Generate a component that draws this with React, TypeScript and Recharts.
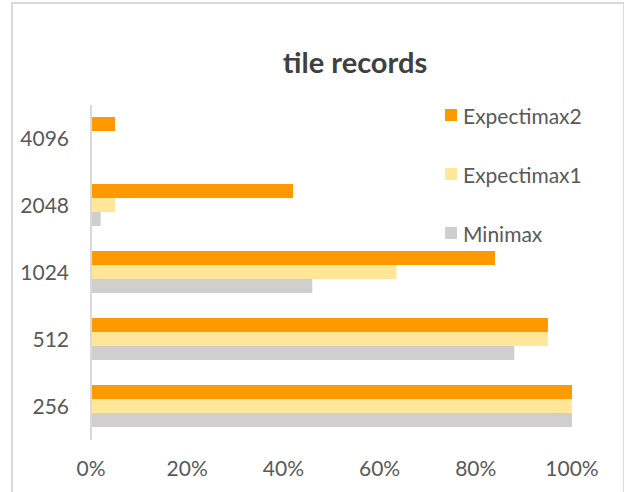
import React from "react"
import { BarChart, Bar, XAxis, YAxis } from "recharts"

const categories = ["4096", "2048", "1024", "512", "256"]
const expectimax2 = [5, 42, 84, 95, 100]
const expectimax1 = [0, 5, 63.5, 95, 100]
const minimax = [0, 2, 46, 88, 100]
const xTicks = [0, 20, 40, 60, 80, 100]

const series = [
  { key: "Expectimax2", values: expectimax2, color: "#FF9900" },
  { key: "Expectimax1", values: expectimax1, color: "#FFE699" },
  { key: "Minimax", values: minimax, color: "#D0CECE" },
]

const data = categories.map((tile, i) => {
  const row: Record<string, string | number> = { tile }
  series.forEach((s) => { row[s.key] = s.values[i] })
  return row
})

// legend drawn by hand, recharts would shrink the plot for it
function LegendList() {
  return (
    <div style={{ position: "absolute", left: 445, top: 103, display: "flex", flexDirection: "column", gap: 35 }}>
      {series.map((s) => (
        <div key={s.key} style={{ display: "flex", alignItems: "center", height: 24 }}>
          <span style={{ width: 12, height: 12, background: s.color, marginRight: 6, display: "inline-block" }} />
          <span style={{ fontSize: 21, color: "#595959" }}>{s.key}</span>
        </div>
      ))}
    </div>
  )
}

export default function App() {
  return (
    <div style={{ position: "fixed", left: 0, top: 0, width: 624, height: 492, overflow: "hidden", background: "#fff", fontFamily: "Lato, sans-serif" }}>
      {/* chart frame */}
      <div style={{ position: "absolute", left: 11, top: 2, width: 610, height: 520, border: "2px solid #D9D9D9" }} />

      <div style={{ position: "absolute", left: 0, top: 44, width: 624, paddingLeft: 86, boxSizing: "border-box", textAlign: "center", fontSize: 29, fontWeight: 700, color: "#404040" }}>
        tile records
      </div>

      <div style={{ position: "absolute", left: 0, top: 0 }}>
        <BarChart
          width={624}
          height={492}
          layout="vertical"
          data={data}
          margin={{ top: 105, right: 52, bottom: 12, left: 0 }}
          barCategoryGap={12}
          barGap={0}
        >
          <XAxis
            type="number"
            domain={[0, 100]}
            ticks={xTicks}
            tickFormatter={(v) => `${v}%`}
            axisLine={false}
            tickLine={false}
            tickMargin={15}
            height={40}
            tick={{ fill: "#595959", fontSize: 21 }}
          />
          <YAxis
            type="category"
            dataKey="tile"
            width={91}
            axisLine={{ stroke: "#D9D9D9", strokeWidth: 2 }}
            tickLine={false}
            tickMargin={16}
            tick={{ fill: "#595959", fontSize: 21 }}
          />
          {series.map((s) => (
            <Bar key={s.key} dataKey={s.key} fill={s.color} isAnimationActive={false} />
          ))}
        </BarChart>
      </div>

      <LegendList />
    </div>
  )
}
